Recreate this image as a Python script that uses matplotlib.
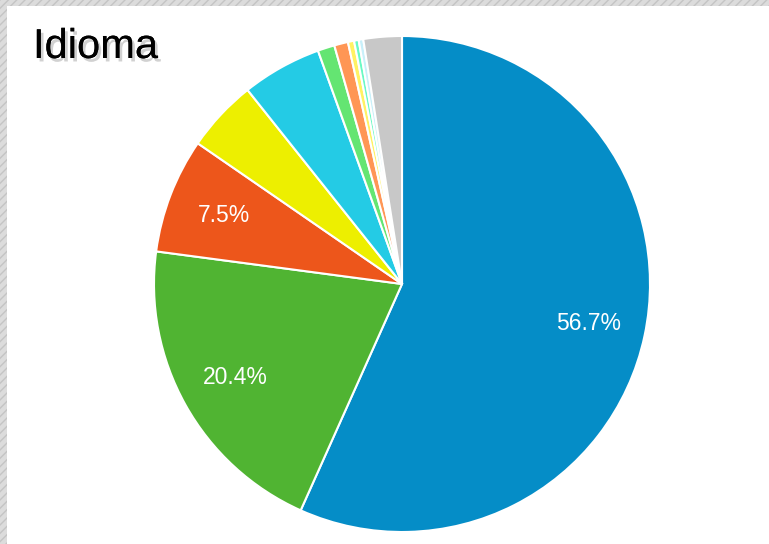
import matplotlib.pyplot as plt
import matplotlib.patheffects as pe
from matplotlib.patches import Rectangle

# idiomas (sentido horario desde arriba)
idiomas = ['es', 'en', 'pt', 'fr', 'de', 'it', 'ca', 'nl', 'ru', 'pl', 'otros']
valores = [56.7, 20.4, 7.5, 4.7, 5.2, 1.1, 0.9, 0.4, 0.3, 0.3, 2.5]
colores = ['#058DC7', '#50B432', '#ED561B', '#EDEF00', '#24CBE5', '#64E572',
           '#FF9655', '#FFF263', '#6AF9C4', '#C8F0FA', '#C8C8C8']

plt.rcParams['font.family'] = ['Liberation Sans', 'DejaVu Sans']

fig = plt.figure(figsize=(7.69, 5.44), dpi=100)
fig.patch.set_facecolor('white')

# borde rayado gris arriba e izquierda
for x, y, w, h in [(0, 1 - 6/544, 1, 6/544), (0, 0, 7/769, 1)]:
    fig.patches.append(Rectangle((x, y), w, h, transform=fig.transFigure,
                                 facecolor='#dcdcdc', edgecolor='#c4c4c4',
                                 hatch='////', linewidth=0, zorder=0))

ax = fig.add_axes([154/769, 12/544, 496/769, 496/544])

def etiqueta(p):
    return '%.1f%%' % p if p > 6 else ''

wedges, textos, autotextos = ax.pie(
    valores, colors=colores, startangle=90, counterclock=False,
    autopct=etiqueta, pctdistance=0.77,
    wedgeprops=dict(edgecolor='white', linewidth=1.5),
    textprops=dict(color='white', fontsize=16.5))
ax.set_xlim(-1, 1)
ax.set_ylim(-1, 1)
ax.set_aspect('equal')

fig.text(33/769, 1 - 47/544, 'Idioma', fontsize=30, color='black', va='center', ha='left',
         path_effects=[pe.withSimplePatchShadow(offset=(2, -2.5), shadow_rgbFace='#999999', alpha=0.45),
                       pe.Normal()])

plt.savefig('out.png', dpi=100)
